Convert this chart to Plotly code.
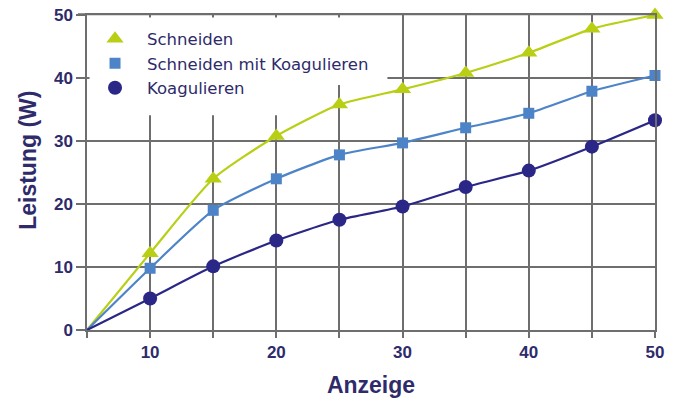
import plotly.graph_objects as go

# Anzeige (dial setting) and output power in watts per mode
anzeige = [5, 10, 15, 20, 25, 30, 35, 40, 45, 50]
schneiden = [0, 12.2, 24.0, 30.8, 35.8, 38.2, 40.8, 44.0, 47.8, 50.0]
schneiden_koag = [0, 9.8, 19.0, 24.0, 27.8, 29.7, 32.1, 34.4, 37.9, 40.4]
koagulieren = [0, 5.0, 10.1, 14.2, 17.5, 19.6, 22.7, 25.3, 29.1, 33.3]

series = [
    ("Schneiden", schneiden, "#b8cf16", "triangle-up", 15),
    ("Schneiden mit Koagulieren", schneiden_koag, "#4d84c8", "square", 11),
    ("Koagulieren", koagulieren, "#2a2787", "circle", 14),
]

x_tickvals = [5, 10, 15, 20, 25, 30, 35, 40, 45, 50]
x_ticktext = ["", "10", "", "20", "", "30", "", "40", "", "50"]
y_tickvals = [0, 10, 20, 30, 40, 50]

text_color = "#2e2b6b"
grid_color = "#6e6e6e"
font_family = "Liberation Sans, Arial, sans-serif"

fig = go.Figure()

for name, vals, color, symbol, size in series:
    # smoothed curve starting at the origin
    fig.add_trace(go.Scatter(
        x=anzeige, y=vals, mode="lines", showlegend=False,
        line=dict(color=color, width=2.2, shape="spline", smoothing=0.6),
        hoverinfo="skip",
    ))
    # measured points
    fig.add_trace(go.Scatter(
        x=anzeige[1:], y=vals[1:], mode="markers", name=name,
        marker=dict(color=color, symbol=symbol, size=size, line=dict(width=0)),
        cliponaxis=False,
    ))

# white area behind the legend hides the grid there
fig.add_shape(type="rect", x0=5.2, x1=28.8, y0=38.9, y1=49.6, layer="between",
              fillcolor="white", line=dict(width=0))
fig.add_shape(type="rect", x0=5.2, x1=23.0, y0=34.1, y1=38.9, layer="between",
              fillcolor="white", line=dict(width=0))

# top frame line extending over the y tick at 50
fig.add_shape(type="line", xref="paper", yref="paper", x0=-0.016, x1=1.0, y0=1.002, y1=1.002,
              line=dict(color=grid_color, width=2), layer="above")

axis_common = dict(
    ticks="outside", tickwidth=1.5, tickcolor=grid_color,
    showgrid=True, gridcolor=grid_color, gridwidth=1.5,
    showline=True, linecolor=grid_color, linewidth=1.5, mirror=True,
    zeroline=False, automargin=False,
    tickfont=dict(size=17, color=text_color, family=font_family, weight="bold"),
)

fig.update_layout(
    width=680, height=401,
    margin=dict(l=87, r=25, t=15, b=71),
    paper_bgcolor="white", plot_bgcolor="white",
    font=dict(family=font_family, color=text_color),
    legend=dict(
        x=-0.007, y=0.979, xanchor="left", yanchor="top",
        bgcolor="rgba(0,0,0,0)", borderwidth=0,
        font=dict(size=16.5, color=text_color, family="DejaVu Sans, sans-serif"),
        tracegroupgap=0, itemwidth=54,
    ),
    xaxis=dict(
        range=[5, 50], tickmode="array", tickvals=x_tickvals, ticktext=x_ticktext,
        ticklen=6,
        title=dict(text="<b>Anzeige</b>", font=dict(size=23, color=text_color), standoff=16),
        **axis_common,
    ),
    yaxis=dict(
        range=[0, 50], tickmode="array", tickvals=y_tickvals,
        ticklen=9,
        **axis_common,
    ),
    annotations=[dict(
        text="<b>Leistung (W)</b>", textangle=-90, showarrow=False,
        xref="paper", yref="paper", x=-0.104, y=0.54,
        xanchor="center", yanchor="middle",
        font=dict(size=23, color=text_color, family=font_family),
    )],
)

fig.write_html("out.html")
